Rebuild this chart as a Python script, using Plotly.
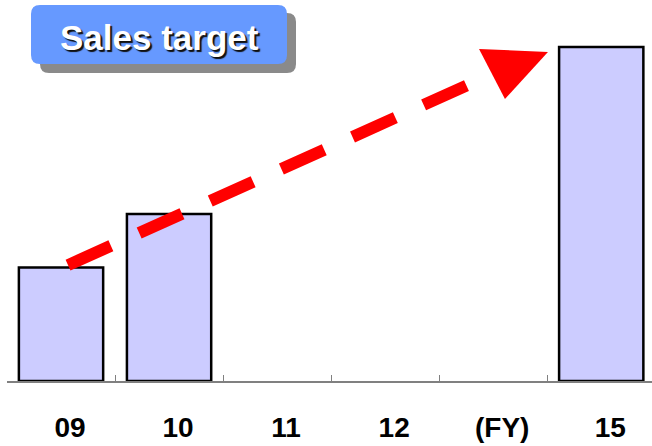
import plotly.graph_objects as go

# Fiscal-year categories and sales values (index, FY15 target = 100)
years = ["09", "10", "11", "12", "(FY)", "15"]
sales = [34, 50, None, None, None, 100]

# Trend arrow in (category index, value) coordinates
arrow_start = (0.065, 34.7)
arrow_base = (3.99, 91.9)
arrow_tip = (4.507, 98.5)
arrow_wing_a = (3.869, 99.4)
arrow_wing_b = (4.109, 84.4)

W, H = 652, 446
L, R, T, B = 7, 0, 0, 65
X_RANGE = [-0.5, 5.47]
Y_RANGE = [0, 114.07]

fig = go.Figure()
fig.add_trace(go.Bar(
    x=years, y=sales,
    marker=dict(color="#CCCCFF", line=dict(color="black", width=2.5)),
    hoverinfo="skip",
))

# dashed red trend line
fig.add_shape(type="line", xref="x", yref="y",
              x0=arrow_start[0], y0=arrow_start[1],
              x1=arrow_base[0], y1=arrow_base[1],
              line=dict(color="#FF0000", width=12, dash="47px,31px"))
# arrowhead
fig.add_shape(type="path", xref="x", yref="y",
              path=f"M {arrow_wing_a[0]} {arrow_wing_a[1]} L {arrow_tip[0]} {arrow_tip[1]} "
                   f"L {arrow_wing_b[0]} {arrow_wing_b[1]} Z",
              fillcolor="#FF0000", line=dict(width=0))

pw, ph = W - L - R, H - T - B


def px(x):
    return (x - L) / pw


def py(y):
    return (H - B - y) / ph


def rounded(x0, y0, x1, y1, r):
    return (f"M {px(x0 + r)} {py(y0)} L {px(x1 - r)} {py(y0)} "
            f"Q {px(x1)} {py(y0)} {px(x1)} {py(y0 + r)} L {px(x1)} {py(y1 - r)} "
            f"Q {px(x1)} {py(y1)} {px(x1 - r)} {py(y1)} L {px(x0 + r)} {py(y1)} "
            f"Q {px(x0)} {py(y1)} {px(x0)} {py(y1 - r)} L {px(x0)} {py(y0 + r)} "
            f"Q {px(x0)} {py(y0)} {px(x0 + r)} {py(y0)} Z")


# title badge: shadow then blue box
fig.add_shape(type="path", xref="paper", yref="paper",
              path=rounded(40, 13, 296, 73, 9), fillcolor="#8A8A8A",
              line=dict(width=0))
fig.add_shape(type="path", xref="paper", yref="paper",
              path=rounded(31, 5, 287, 64, 9), fillcolor="#6699FF",
              line=dict(width=0))
fig.add_annotation(xref="paper", yref="paper", x=px(159), y=py(37),
                   text="<b>Sales target</b>", showarrow=False,
                   font=dict(family="Arial, Liberation Sans", size=35, color="white",
                             shadow="2px 2px 1px #101010"),
                   xanchor="center", yanchor="middle")

fig.update_layout(
    width=W, height=H,
    margin=dict(l=L, r=R, t=T, b=B),
    paper_bgcolor="white", plot_bgcolor="white",
    bargap=0.22, showlegend=False,
    xaxis=dict(
        type="category", range=X_RANGE, automargin=False,
        showline=True, linecolor="#808080", linewidth=1.5,
        ticks="inside", ticklen=6, tickcolor="#808080", tickwidth=1,
        tickson="boundaries", showgrid=False, zeroline=False,
        tickfont=dict(family="Arial, Liberation Sans", size=28, color="black",
                      weight="bold"),
        ticklabelstandoff=21, ticklabelshift=9,
    ),
    yaxis=dict(range=Y_RANGE, visible=False, showgrid=False, zeroline=False,
               automargin=False),
)

fig.write_html("out.html")
